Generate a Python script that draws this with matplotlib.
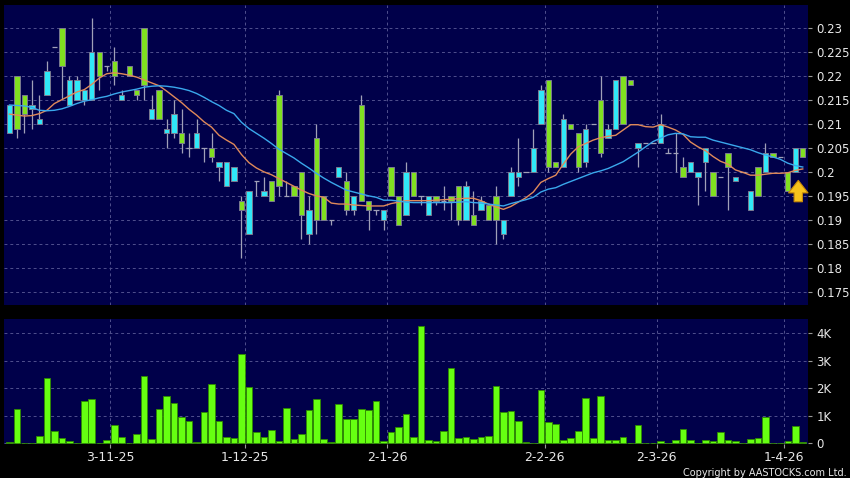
import numpy as np
import matplotlib
matplotlib.use("Agg")
import matplotlib.pyplot as plt

# daily OHLC (price), volume in thousands
opens = [0.208, 0.220, 0.216, 0.213, 0.210, 0.216, 0.226, 0.230, 0.214, 0.215,
         0.215, 0.215, 0.225, 0.222, 0.223, 0.215, 0.222, 0.217, 0.230, 0.211,
         0.217, 0.208, 0.208, 0.208, 0.205, 0.205, 0.205, 0.205, 0.201, 0.197,
         0.198, 0.194, 0.187, 0.198, 0.195, 0.198, 0.216, 0.195, 0.197, 0.200,
         0.187, 0.207, 0.195, 0.190, 0.199, 0.198, 0.192, 0.214, 0.194, 0.192,
         0.190, 0.201, 0.195, 0.191, 0.200, 0.195, 0.191, 0.195, 0.194, 0.195,
         0.197, 0.190, 0.191, 0.192, 0.193, 0.195, 0.187, 0.195, 0.199, 0.200,
         0.200, 0.210, 0.219, 0.202, 0.201, 0.210, 0.208, 0.202, 0.210, 0.215,
         0.207, 0.209, 0.220, 0.219, 0.205, 0.206, 0.206, 0.206, 0.204, 0.204,
         0.201, 0.200, 0.199, 0.202, 0.200, 0.199, 0.204, 0.198, 0.200, 0.192,
         0.201, 0.200, 0.204, 0.203, 0.200, 0.200, 0.205]
highs = [0.214, 0.220, 0.216, 0.219, 0.216, 0.223, 0.226, 0.230, 0.220, 0.220,
         0.217, 0.232, 0.225, 0.222, 0.226, 0.217, 0.222, 0.217, 0.230, 0.216,
         0.217, 0.211, 0.215, 0.213, 0.208, 0.211, 0.205, 0.208, 0.202, 0.202,
         0.201, 0.195, 0.196, 0.198, 0.199, 0.198, 0.217, 0.198, 0.197, 0.200,
         0.195, 0.210, 0.195, 0.190, 0.201, 0.200, 0.195, 0.216, 0.194, 0.192,
         0.192, 0.201, 0.195, 0.202, 0.200, 0.195, 0.195, 0.195, 0.197, 0.195,
         0.197, 0.198, 0.196, 0.195, 0.193, 0.197, 0.190, 0.201, 0.207, 0.200,
         0.209, 0.218, 0.219, 0.202, 0.212, 0.210, 0.208, 0.210, 0.210, 0.220,
         0.210, 0.219, 0.220, 0.219, 0.206, 0.206, 0.206, 0.212, 0.205, 0.208,
         0.203, 0.202, 0.200, 0.205, 0.200, 0.199, 0.204, 0.199, 0.200, 0.196,
         0.201, 0.206, 0.204, 0.203, 0.200, 0.205, 0.205]
lows = [0.208, 0.207, 0.208, 0.209, 0.210, 0.216, 0.226, 0.215, 0.214, 0.215,
        0.214, 0.215, 0.217, 0.221, 0.218, 0.215, 0.220, 0.215, 0.215, 0.211,
        0.211, 0.205, 0.207, 0.204, 0.203, 0.205, 0.202, 0.202, 0.198, 0.197,
        0.198, 0.182, 0.187, 0.195, 0.195, 0.194, 0.195, 0.195, 0.195, 0.186,
        0.185, 0.187, 0.190, 0.189, 0.199, 0.191, 0.191, 0.194, 0.188, 0.191,
        0.188, 0.195, 0.189, 0.191, 0.195, 0.193, 0.191, 0.193, 0.192, 0.190,
        0.189, 0.190, 0.189, 0.192, 0.190, 0.185, 0.186, 0.195, 0.197, 0.200,
        0.200, 0.210, 0.200, 0.201, 0.201, 0.209, 0.200, 0.201, 0.210, 0.203,
        0.207, 0.209, 0.210, 0.218, 0.201, 0.206, 0.206, 0.206, 0.204, 0.200,
        0.199, 0.200, 0.193, 0.196, 0.195, 0.199, 0.192, 0.198, 0.200, 0.192,
        0.195, 0.200, 0.203, 0.203, 0.196, 0.200, 0.203]
closes = [0.214, 0.209, 0.212, 0.214, 0.211, 0.221, 0.226, 0.222, 0.219, 0.219,
          0.217, 0.225, 0.220, 0.222, 0.220, 0.216, 0.220, 0.216, 0.218, 0.213,
          0.211, 0.209, 0.212, 0.206, 0.205, 0.208, 0.205, 0.203, 0.202, 0.202,
          0.201, 0.192, 0.196, 0.198, 0.196, 0.194, 0.197, 0.195, 0.195, 0.191,
          0.192, 0.190, 0.190, 0.190, 0.201, 0.192, 0.195, 0.194, 0.192, 0.192,
          0.192, 0.195, 0.189, 0.200, 0.195, 0.195, 0.195, 0.194, 0.194, 0.194,
          0.190, 0.197, 0.189, 0.194, 0.190, 0.190, 0.190, 0.200, 0.200, 0.200,
          0.205, 0.217, 0.201, 0.201, 0.211, 0.209, 0.201, 0.209, 0.210, 0.204,
          0.209, 0.219, 0.210, 0.218, 0.206, 0.206, 0.206, 0.210, 0.204, 0.204,
          0.199, 0.202, 0.200, 0.205, 0.195, 0.199, 0.201, 0.199, 0.200, 0.196,
          0.195, 0.204, 0.203, 0.203, 0.196, 0.205, 0.203]
volume_k = [0.04, 1.25, 0, 0, 0.27, 2.37, 0.45, 0.19, 0.07, 0,
            1.53, 1.59, 0.02, 0.13, 0.65, 0.23, 0, 0.35, 2.43, 0.17,
            1.24, 1.71, 1.45, 0.96, 0.80, 0.04, 1.12, 2.16, 0.80, 0.24,
            0.20, 3.23, 2.04, 0.40, 0.23, 0.48, 0.08, 1.29, 0.17, 0.33,
            1.22, 1.61, 0.16, 0.04, 1.43, 0.88, 0.88, 1.25, 1.20, 1.53,
            0.07, 0.39, 0.58, 1.07, 0.24, 4.26, 0.11, 0.08, 0.45, 2.75,
            0.18, 0.23, 0.16, 0.23, 0.25, 2.07, 1.13, 1.18, 0.80, 0.04,
            0, 1.95, 0.76, 0.69, 0.10, 0.19, 0.45, 1.65, 0.18, 1.71,
            0.10, 0.10, 0.23, 0, 0.65, 0, 0.01, 0.07, 0.02, 0.11,
            0.50, 0.13, 0, 0.11, 0.08, 0.40, 0.11, 0.08, 0, 0.16,
            0.20, 0.95, 0, 0, 0.08, 0.63, 0.04]
# moving averages
ma10 = [0.2120, 0.2118, 0.2116, 0.2117, 0.2121, 0.2128, 0.2142, 0.2150, 0.2158, 0.2166,
        0.2171, 0.2182, 0.2195, 0.2204, 0.2206, 0.2204, 0.2201, 0.2197, 0.2191, 0.2185,
        0.2179, 0.2168, 0.2156, 0.2144, 0.2130, 0.2118, 0.2104, 0.2093, 0.2076, 0.2066,
        0.2057, 0.2036, 0.2019, 0.2008, 0.2000, 0.1994, 0.1986, 0.1978, 0.1970, 0.1962,
        0.1955, 0.1950, 0.1947, 0.1935, 0.1933, 0.1933, 0.1931, 0.1930, 0.1929, 0.1929,
        0.1929, 0.1934, 0.1937, 0.1940, 0.1940, 0.1940, 0.1940, 0.1941, 0.1942, 0.1943,
        0.1944, 0.1945, 0.1945, 0.1940, 0.1933, 0.1927, 0.1922, 0.1928, 0.1937, 0.1946,
        0.1958, 0.1978, 0.1986, 0.1993, 0.2016, 0.2037, 0.2052, 0.2059, 0.2066, 0.2071,
        0.2074, 0.2076, 0.2087, 0.2098, 0.2098, 0.2094, 0.2093, 0.2098, 0.2093, 0.2087,
        0.2078, 0.2062, 0.2052, 0.2044, 0.2032, 0.2022, 0.2016, 0.2004, 0.1999, 0.1993,
        0.1993, 0.1995, 0.1997, 0.1997, 0.1998, 0.2003, 0.2006]
ma20 = [0.2139, 0.2138, 0.2137, 0.2134, 0.2128, 0.2127, 0.2128, 0.2131, 0.2136, 0.2142,
        0.2147, 0.2150, 0.2154, 0.2157, 0.2162, 0.2166, 0.2169, 0.2172, 0.2176, 0.2178,
        0.2179, 0.2178, 0.2176, 0.2173, 0.2169, 0.2163, 0.2155, 0.2146, 0.2138, 0.2128,
        0.2121, 0.2103, 0.2090, 0.2080, 0.2070, 0.2059, 0.2047, 0.2038, 0.2029, 0.2018,
        0.2008, 0.1997, 0.1987, 0.1978, 0.1970, 0.1962, 0.1958, 0.1954, 0.1950, 0.1947,
        0.1941, 0.1941, 0.1939, 0.1937, 0.1936, 0.1936, 0.1936, 0.1936, 0.1936, 0.1936,
        0.1937, 0.1938, 0.1936, 0.1935, 0.1933, 0.1931, 0.1929, 0.1934, 0.1938, 0.1942,
        0.1947, 0.1958, 0.1964, 0.1967, 0.1974, 0.1980, 0.1986, 0.1992, 0.1998, 0.2002,
        0.2007, 0.2014, 0.2021, 0.2031, 0.2041, 0.2052, 0.2063, 0.2070, 0.2077, 0.2080,
        0.2079, 0.2073, 0.2072, 0.2072, 0.2066, 0.2062, 0.2058, 0.2054, 0.2050, 0.2046,
        0.2040, 0.2035, 0.2031, 0.2026, 0.2018, 0.2013, 0.2010]

date_labels = ["3-11-25", "1-12-25", "2-1-26", "2-2-26", "2-3-26", "1-4-26"]
date_pos = [13.5, 31.5, 50.5, 71.5, 86.5, 103.5]
price_ticks = [0.175, 0.18, 0.185, 0.19, 0.195, 0.2, 0.205, 0.21, 0.215, 0.22, 0.225, 0.23]
vol_ticks = [0, 1, 2, 3, 4]
vol_labels = ["0", "1K", "2K", "3K", "4K"]

BG = "#000000"
PANEL = "#00004a"
GRID = "#50508e"
TXT = "#e8e8e8"
UP = "#30e8f8"
DOWN = "#80e020"
WICK = "#a0a0b8"

o = np.array(opens); h = np.array(highs); l = np.array(lows); c = np.array(closes)
x = np.arange(len(o))

fig = plt.figure(figsize=(8.5, 4.78), dpi=100, facecolor=BG)
ax = fig.add_axes([4 / 850, 1 - 305 / 478, 804 / 850, 300 / 478], facecolor=PANEL)
axv = fig.add_axes([4 / 850, 1 - 444 / 478, 804 / 850, 125 / 478], facecolor=PANEL)

for a in (ax, axv):
    for s in a.spines.values():
        s.set_visible(False)
    a.set_xlim(-0.73, 106.7)
    a.set_xticks(date_pos)
    a.grid(True, color=GRID, linestyle=(0, (3, 3)), linewidth=0.7)
    a.set_axisbelow(True)
    a.yaxis.tick_right()
    a.tick_params(axis="y", colors=TXT, labelsize=8.5, length=3, width=0.8,
                  color="#999999", pad=3)

# candles
ax.vlines(x, l, h, color=WICK, linewidth=0.9, zorder=2)
body = c != o
cols = np.where(c > o, UP, DOWN)
ax.bar(x[body], np.abs(c - o)[body], bottom=np.minimum(o, c)[body], width=0.72,
       color=cols[body], edgecolor="#7a7a90", linewidth=0.7, zorder=3)
ax.hlines(c[~body], x[~body] - 0.36, x[~body] + 0.36, color=WICK, linewidth=0.9, zorder=3)

ax.plot(x, ma10, color="#e08a5a", linewidth=1.0, zorder=4)
ax.plot(x, ma20, color="#3aa8ec", linewidth=1.0, zorder=4)

# up arrow on the last session
ax.annotate("", xy=(x[-1] - 0.6, 0.1988), xytext=(x[-1] - 0.6, 0.1932),
            arrowprops=dict(arrowstyle="simple,head_width=1.4,head_length=0.9,tail_width=0.6",
                            fc="#f6c21c", ec="#c88a08", lw=0.8), zorder=5)

ax.set_ylim(0.1723, 0.2347)
ax.set_yticks(price_ticks)
ax.set_yticklabels([f"{t:g}" for t in price_ticks])
ax.tick_params(axis="x", length=0, labelbottom=False)

axv.bar(x, volume_k, width=0.88, color="#66ff11", edgecolor="#2f8a00", linewidth=0.6, zorder=3)
axv.set_ylim(-0.03, 4.52)
axv.set_yticks(vol_ticks)
axv.set_yticklabels(vol_labels)
axv.set_xticklabels(date_labels)
axv.tick_params(axis="x", colors=TXT, labelsize=9, length=3, color="#999999", pad=2)

fig.text(0.996, 0.0, "Copyright by AASTOCKS.com Ltd.", color=TXT, fontsize=7,
         ha="right", va="bottom")

fig.savefig("out.png", dpi=100, facecolor=BG)
